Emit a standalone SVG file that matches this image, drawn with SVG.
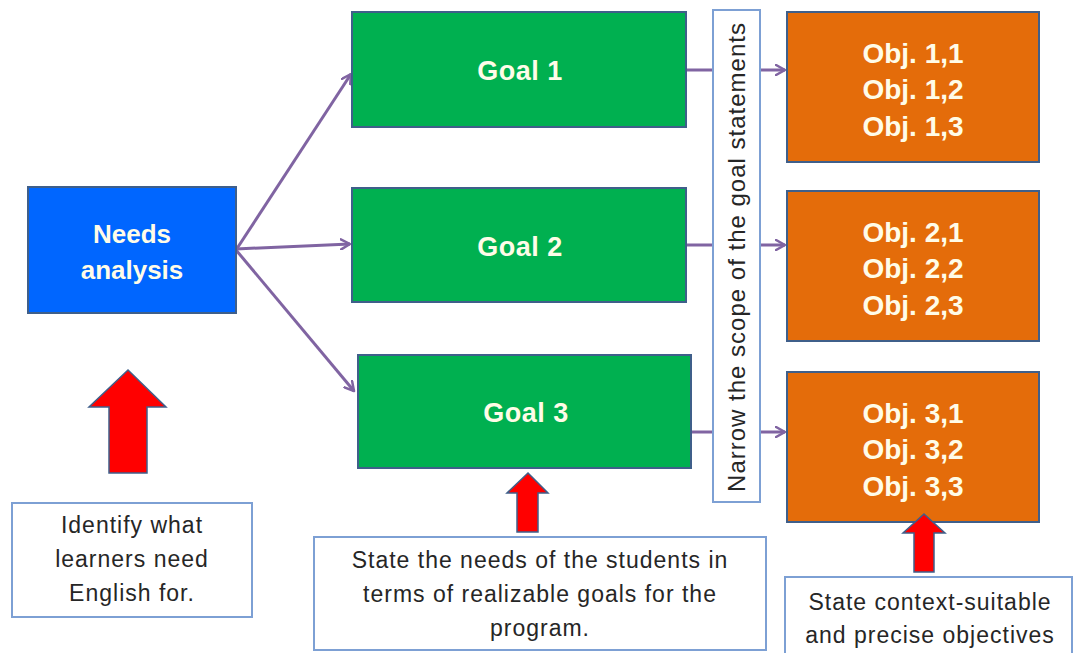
<svg xmlns="http://www.w3.org/2000/svg" width="1073" height="653" viewBox="0 0 1073 653">
<defs>
<marker id="ah" viewBox="0 0 12 12" refX="10" refY="6" markerWidth="12" markerHeight="12" markerUnits="userSpaceOnUse" orient="auto">
<path d="M1,1 L10,6 L1,11" fill="none" stroke="#8064A2" stroke-width="2.5" stroke-linecap="round" stroke-linejoin="round"/>
</marker>
<style>
.box{stroke:#3F5F8A;stroke-width:2}
.blue{fill:#0066FF}
.green{fill:#00B050}
.orange{fill:#E46C0A}
.note{fill:#FFFFFF;stroke:#7DA0D4;stroke-width:2}
.wt{font-family:"Liberation Sans",Arial,sans-serif;font-weight:bold;fill:#FFFCE8;text-anchor:middle}
.nt{font-family:"Liberation Sans",Arial,sans-serif;fill:#262626;text-anchor:middle;font-size:23px;letter-spacing:1px}
.conn{stroke:#8064A2;stroke-width:3;fill:none}
.red{fill:#FF0000;stroke:#3F5F8A;stroke-width:1.5}
</style>
</defs>
<rect width="1073" height="653" fill="#FFFFFF"/>
<g id="connectors">
<line class="conn" x1="236" y1="250" x2="351" y2="74" marker-end="url(#ah)"/>
<line class="conn" x1="236" y1="249" x2="350" y2="244" marker-end="url(#ah)"/>
<line class="conn" x1="236" y1="250" x2="354" y2="391" marker-end="url(#ah)"/>
<line class="conn" x1="686" y1="70" x2="785" y2="70" marker-end="url(#ah)"/>
<line class="conn" x1="686" y1="245" x2="785" y2="245" marker-end="url(#ah)"/>
<line class="conn" x1="691" y1="432" x2="785" y2="432" marker-end="url(#ah)"/>
</g>
<g id="needs">
<rect class="box blue" x="28" y="187" width="208" height="126"/>
<text class="wt" font-size="26" x="132" y="243">Needs</text>
<text class="wt" font-size="26" x="132" y="279">analysis</text>
</g>
<g id="goal1">
<rect class="box green" x="352" y="12" width="334" height="115"/>
<text class="wt" font-size="27" x="520" y="80" letter-spacing="0.5">Goal 1</text>
</g>
<g id="goal2">
<rect class="box green" x="352" y="188" width="334" height="114"/>
<text class="wt" font-size="27" x="520" y="256" letter-spacing="0.5">Goal 2</text>
</g>
<g id="goal3">
<rect class="box green" x="358" y="355" width="333" height="113"/>
<text class="wt" font-size="27" x="526" y="422" letter-spacing="0.5">Goal 3</text>
</g>
<g id="narrow">
<rect class="note" x="713" y="10" width="47" height="492"/>
<text class="nt" font-size="24" transform="translate(745,257) rotate(-90)" style="font-size:24px">Narrow the scope of the goal statements</text>
</g>
<g id="obj1">
<rect class="box orange" x="787" y="12" width="252" height="150"/>
<text class="wt" font-size="28" x="913" y="63">Obj. 1,1</text>
<text class="wt" font-size="28" x="913" y="99">Obj. 1,2</text>
<text class="wt" font-size="28" x="913" y="136">Obj. 1,3</text>
</g>
<g id="obj2">
<rect class="box orange" x="787" y="191" width="252" height="150"/>
<text class="wt" font-size="28" x="913" y="242">Obj. 2,1</text>
<text class="wt" font-size="28" x="913" y="278">Obj. 2,2</text>
<text class="wt" font-size="28" x="913" y="315">Obj. 2,3</text>
</g>
<g id="obj3">
<rect class="box orange" x="787" y="372" width="252" height="150"/>
<text class="wt" font-size="28" x="913" y="423">Obj. 3,1</text>
<text class="wt" font-size="28" x="913" y="459">Obj. 3,2</text>
<text class="wt" font-size="28" x="913" y="496">Obj. 3,3</text>
</g>
<g id="arrow1">
<polygon class="red" points="128,370 166,407 147,407 147,473 109,473 109,407 89,407"/>
</g>
<g id="arrow2">
<polygon class="red" points="528,473 548,493 538,493 538,532 517,532 517,493 507,493"/>
</g>
<g id="arrow3">
<polygon class="red" points="924,514 945,533 934,533 934,572 914,572 914,533 903,533"/>
</g>
<g id="note1">
<rect class="note" x="12" y="503" width="240" height="114"/>
<text class="nt" x="132" y="533">Identify what</text>
<text class="nt" x="132" y="567">learners need</text>
<text class="nt" x="132" y="601">English for.</text>
</g>
<g id="note2">
<rect class="note" x="314" y="537" width="452" height="113"/>
<text class="nt" x="540" y="568">State the needs of the students in</text>
<text class="nt" x="540" y="602">terms of realizable goals for the</text>
<text class="nt" x="540" y="636">program.</text>
</g>
<g id="note3">
<rect class="note" x="785" y="577" width="287" height="80"/>
<text class="nt" x="930" y="610">State context-suitable</text>
<text class="nt" x="930" y="643">and precise objectives</text>
</g>
</svg>
